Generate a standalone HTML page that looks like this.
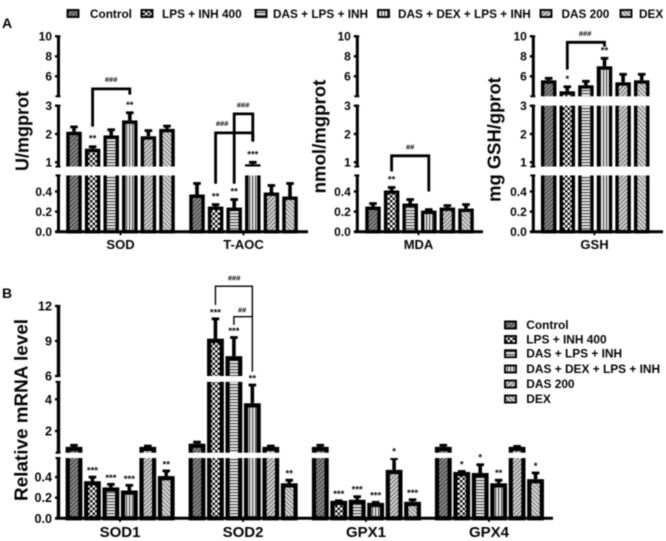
<!DOCTYPE html>
<html>
<head>
<meta charset="utf-8">
<title>Antioxidant chart</title>
<style>
html,body{margin:0;padding:0;background:#fff;width:666px;height:541px;overflow:hidden}
svg{display:block;filter:blur(.4px)}
text{font-family:"Liberation Sans",Arial,sans-serif;font-weight:bold;fill:#050505}
</style>
</head>
<body>
<svg id="chart" xmlns="http://www.w3.org/2000/svg" width="666" height="541" viewBox="0 0 666 541">
<defs>
<pattern id="p0" patternUnits="userSpaceOnUse" width="3" height="3" patternTransform="rotate(45)"><rect width="3" height="3" fill="#8e8e8e"/><rect width="1.3" height="3" fill="#444"/></pattern>
<pattern id="p1" patternUnits="userSpaceOnUse" width="5" height="5"><rect width="5" height="5" fill="#fff"/><rect width="2.5" height="2.5" fill="#111"/><rect x="2.5" y="2.5" width="2.5" height="2.5" fill="#111"/></pattern>
<pattern id="p2" patternUnits="userSpaceOnUse" width="3" height="3"><rect width="3" height="3" fill="#f2f2f2"/><rect width="3" height="1.2" fill="#444"/></pattern>
<pattern id="p3" patternUnits="userSpaceOnUse" width="3" height="3"><rect width="3" height="3" fill="#f5f5f5"/><rect width="1.2" height="3" fill="#444"/></pattern>
<pattern id="p4" patternUnits="userSpaceOnUse" width="3" height="3" patternTransform="rotate(45)"><rect width="3" height="3" fill="#dcdcdc"/><rect width="1.2" height="3" fill="#6a6a6a"/></pattern>
<pattern id="p5" patternUnits="userSpaceOnUse" width="3" height="3" patternTransform="rotate(-45)"><rect width="3" height="3" fill="#e2e2e2"/><rect width="1.2" height="3" fill="#747474"/></pattern>
</defs>
</svg>
<script>
var seriesNames = ['Control', 'LPS + INH 400', 'DAS + LPS + INH', 'DAS + DEX + LPS + INH', 'DAS 200', 'DEX'];
var panelACategories = ['SOD', 'T-AOC', 'MDA', 'GSH'];
var panelBCategories = ['SOD1', 'SOD2', 'GPX1', 'GPX4'];
var panelATicks = [0, 0.2, 0.4, 1, 2, 3, 6, 8, 10];
var panelATickLabels = ['0.0', '0.2', '0.4', '1', '2', '3', '6', '8', '10'];
var panelBTicks = [0, 0.2, 0.4, 2, 4, 6, 9, 12];
var panelBTickLabels = ['0.0', '0.2', '0.4', '2', '4', '6', '9', '12'];

var sodValues = [2.08, 1.48, 1.95, 2.48, 1.92, 2.18];
var sodErrors = [2.25, 1.55, 2.15, 2.75, 2.12, 2.28];
var sodStars = ['', '**', '', '**', '', ''];
var taocValues = [0.37, 0.25, 0.24, 0.93, 0.39, 0.35];
var taocErrors = [0.48, 0.27, 0.32, 1.0, 0.46, 0.48];
var taocStars = ['', '**', '**', '***', '', ''];
var mdaValues = [0.25, 0.41, 0.28, 0.21, 0.24, 0.23];
var mdaErrors = [0.28, 0.44, 0.32, 0.22, 0.26, 0.27];
var mdaStars = ['', '**', '', '', '', ''];
var gshValues = [5.6, 4.5, 5.1, 7.0, 5.4, 5.6];
var gshErrors = [5.8, 4.95, 5.5, 7.8, 6.2, 6.2];
var gshStars = ['', '*', '', '**', '', ''];

var sod1Values = [1.0, 0.36, 0.30, 0.27, 1.0, 0.41];
var sod1Errors = [1.1, 0.40, 0.33, 0.32, 1.05, 0.46];
var sod1Stars = ['', '***', '***', '***', '', '**'];
var sod2Values = [1.2, 9.2, 7.7, 3.75, 1.0, 0.34];
var sod2Errors = [1.3, 10.9, 9.3, 4.9, 1.05, 0.37];
var sod2Stars = ['', '***', '***', '**', '', '**'];
var gpx1Values = [1.0, 0.17, 0.18, 0.15, 0.47, 0.16];
var gpx1Errors = [1.1, 0.17, 0.21, 0.155, 0.58, 0.18];
var gpx1Stars = ['', '***', '***', '***', '*', '***'];
var gpx4Values = [1.0, 0.45, 0.44, 0.34, 1.0, 0.38];
var gpx4Errors = [1.1, 0.455, 0.52, 0.37, 1.03, 0.44];
var gpx4Stars = ['', '*', '*', '**', '', '*'];

/* brackets: leftBar, rightBar, leftFootValue, topValue, rightFootValue */
var sodBracket = [1, 3, 2.26, 4.74, 4.17];
var taocBracketOne = [1, 3, 0.477, 2.04, 1.73];
var taocBracketTwo = [2, 3, 0.477, 2.71, 1.73];
var mdaBracket = [1, 3, 0.6, 1.23, 0.40];
var gshBracket = [1, 3, 6.67, 9.4, 8.97];
var sod2BracketOne = [1, 3, 12.08, 13.7, 6.37];
var sod2BracketTwo = [2, 3, 10.37, 11.08, 11.08];

var NS = 'http://www.w3.org/2000/svg';
var svg = document.getElementById('chart');

function yA(v) {
  if (v < 0.85) return 231.7 - v * 100.5;
  if (v < 3.6) return 162.3 - (v - 1) * 28.3;
  return 76.3 - (v - 6) * 10;
}
function yB(v) {
  if (v < 0.62) return 518.3 - v * 103;
  if (v < 5.3) return 431 - (v - 2) * 15.85;
  return 376 - (v - 6) * 11.67;
}
function barX(start, i) { return start + i * 18.6; }
function barXB(start, i) { return start + i * 18.45; }

function el(tag, name, interact) {
  var n = document.createElementNS(NS, tag);
  
  
  svg.appendChild(n);
  return n;
}
function line(name, x1, y1, x2, y2, w) {
  var n = el('line', name, false);
  n.setAttribute('x1', x1);
  n.setAttribute('y1', y1);
  n.setAttribute('x2', x2);
  n.setAttribute('y2', y2);
  n.setAttribute('stroke', '#000');
  n.setAttribute('stroke-width', w);
  return n;
}
function label(name, str, x, y, size, anchor, extra) {
  var n = el('text', name, false);
  n.setAttribute('x', x);
  n.setAttribute('y', y);
  n.setAttribute('font-size', size);
  n.setAttribute('text-anchor', anchor || 'start');
  if (extra) n.setAttribute('transform', extra);
  n.textContent = str;
  return n;
}
function rotLabel(name, str, x, y, size) {
  return label(name, str, x, y, size, 'middle', 'rotate(-90 ' + x + ' ' + y + ')');
}
function drawBars(prefix, values, errors, xf, start, scale, outer, sw) {
  values.forEach(function (v, i) {
    var cx = xf(start, i);
    var y0 = scale(0), yv = scale(v), ye = scale(errors[i]);
    line(prefix + '-error-' + i, cx, yv, cx, ye, 3.6);
    line(prefix + '-error-cap-' + i, cx - 3.8, ye, cx + 3.8, ye, 2.8);
    var r = el('rect', prefix + '-bar-' + i, false);
    r.setAttribute('x', cx - outer / 2 + sw / 2);
    r.setAttribute('y', yv + sw / 2);
    r.setAttribute('width', outer - sw);
    r.setAttribute('height', Math.max(0, y0 - yv - sw / 2));
    r.setAttribute('fill', 'url(#p' + i + ')');
    r.setAttribute('stroke', '#000');
    r.setAttribute('stroke-width', sw);
  });
}
function drawStars(prefix, errors, stars, xf, start, scale, gap) {
  stars.forEach(function (s, i) {
    if (!s) return;
    label(prefix + '-significance-' + i, s, xf(start, i), scale(errors[i]) - gap, 9.5, 'middle');
  });
}
function gapBox(name, x1, x2, y1, y2) {
  var n = el('rect', name, false);
  n.setAttribute('x', x1);
  n.setAttribute('y', Math.min(y1, y2));
  n.setAttribute('width', x2 - x1);
  n.setAttribute('height', Math.abs(y2 - y1));
  n.setAttribute('fill', '#fff');
}
function yAxis(prefix, ax, right, scale, ticks, tickLabels, segs, fs, sw) {
  segs.forEach(function (s, i) {
    line(prefix + '-y-axis-segment-' + i, ax, scale(s[0]), ax, scale(s[1]), sw);
    line(prefix + '-y-axis-end-' + i + 'a', ax - 3, scale(s[0]), ax + 2, scale(s[0]), 2);
    line(prefix + '-y-axis-end-' + i + 'b', ax - 3, scale(s[1]), ax + 2, scale(s[1]), 2);
  });
  ticks.forEach(function (t, i) {
    line(prefix + '-y-tick-' + i, ax - 3.5, scale(t), ax, scale(t), 2.4);
    label(prefix + '-y-tick-label-' + i, tickLabels[i], ax - 6.5, scale(t) + fs * 0.36, fs, 'end');
  });
  line(prefix + '-x-axis', ax - 3, scale(0), right, scale(0), 3);
}
function bracket(prefix, b, xf, start, scale, w) {
  var xl = xf(start, b[0]), xr = xf(start, b[1]);
  var n = el('polyline', prefix, false);
  n.setAttribute('points', xl + ',' + scale(b[2]) + ' ' + xl + ',' + scale(b[3]) + ' ' + xr + ',' + scale(b[3]) + ' ' + xr + ',' + scale(b[4]));
  n.setAttribute('fill', 'none');
  n.setAttribute('stroke', '#000');
  n.setAttribute('stroke-width', w);
}
function hash(name, s, x, y) {
  var n = label(name, s, x, y, 7.5, 'middle');
  n.setAttribute('font-style', 'italic');
}
function swatch(name, x, y, i) {
  var r = el('rect', name, true);
  r.setAttribute('x', x);
  r.setAttribute('y', y);
  r.setAttribute('width', 11);
  r.setAttribute('height', 7);
  r.setAttribute('fill', 'url(#p' + i + ')');
  r.setAttribute('stroke', '#000');
  r.setAttribute('stroke-width', 1.9);
}

/* Panel A bars */
drawBars('sod', sodValues, sodErrors, barX, 74, yA, 15.5, 3.4);
drawBars('taoc', taocValues, taocErrors, barX, 197, yA, 15.5, 3.4);
drawBars('mda', mdaValues, mdaErrors, barX, 373, yA, 15.5, 3.4);
drawBars('gsh', gshValues, gshErrors, barX, 548.7, yA, 15.5, 3.4);
/* Panel B bars */
drawBars('sod1', sod1Values, sod1Errors, barXB, 74, yB, 16.8, 4.2);
drawBars('sod2', sod2Values, sod2Errors, barXB, 197, yB, 16.8, 4.2);
drawBars('gpx1', gpx1Values, gpx1Errors, barXB, 320.3, yB, 16.8, 4.2);
drawBars('gpx4', gpx4Values, gpx4Errors, barXB, 443.3, yB, 16.8, 4.2);

/* axis breaks */
[[60, 308], [359, 483], [535, 666]].forEach(function (p, i) {
  gapBox('panel-a-axis-break-low-' + i, p[0], p[1], yA(0.56), yA(0.85));
  gapBox('panel-a-axis-break-high-' + i, p[0], p[1], yA(3), yA(4));
});
gapBox('panel-b-axis-break-low', 60, 553, yB(0.585), yB(0.63));
gapBox('panel-b-axis-break-high', 60, 553, yB(5.1), yB(6));

/* axes */
var segA = [[0, 0.56], [0.85, 3], [4, 10]];
yAxis('sod-panel', 58.5, 308, yA, panelATicks, panelATickLabels, segA, 12, 3);
yAxis('mda-panel', 357.3, 483, yA, panelATicks, panelATickLabels, segA, 12, 3);
yAxis('gsh-panel', 533.3, 663, yA, panelATicks, panelATickLabels, segA, 12, 3);
yAxis('panel-b', 58.5, 553, yB, panelBTicks, panelBTickLabels, [[0, 0.585], [0.63, 5.1], [6, 12]], 12.6, 3.4);

/* x ticks and category labels */
[120.5, 243.5, 418.5, 594.5].forEach(function (x, i) {
  line('x-tick-' + panelACategories[i], x, yA(0), x, yA(0) + 3.5, 2);
  label('category-' + panelACategories[i], panelACategories[i], x, 249, 13, 'middle');
});
[120, 243, 366, 489].forEach(function (x, i) {
  line('x-tick-' + panelBCategories[i], x, yB(0), x, yB(0) + 3.5, 2);
  label('category-' + panelBCategories[i], panelBCategories[i], x, 537, 15, 'middle');
});

/* brackets */
bracket('sod-bracket', sodBracket, barX, 74, yA, 2.8);
bracket('taoc-bracket-one', taocBracketOne, barX, 197, yA, 2.8);
bracket('taoc-bracket-two', taocBracketTwo, barX, 197, yA, 2.8);
bracket('mda-bracket', mdaBracket, barX, 373, yA, 2.8);
bracket('gsh-bracket', gshBracket, barX, 548.7, yA, 2.8);
bracket('sod2-bracket-one', sod2BracketOne, barXB, 197, yB, 1.4);
bracket('sod2-bracket-two', sod2BracketTwo, barXB, 197, yB, 1.4);
hash('sod-hash', '###', 111, 82);
hash('taoc-hash-one', '###', 222, 126);
hash('taoc-hash-two', '###', 243, 107.5);
hash('mda-hash', '##', 410, 149.5);
hash('gsh-hash', '###', 585, 36);
hash('sod2-hash-one', '###', 234, 280.5);
hash('sod2-hash-two', '##', 242, 312.5);

/* significance stars */
drawStars('sod', sodErrors, sodStars, barX, 74, yA, 5);
drawStars('taoc', taocErrors, taocStars, barX, 197, yA, 5);
drawStars('mda', mdaErrors, mdaStars, barX, 373, yA, 5);
drawStars('gsh', gshErrors, gshStars, barX, 548.7, yA, 5);
drawStars('sod1', sod1Errors, sod1Stars, barXB, 74, yB, 3.5);
drawStars('sod2', sod2Errors, sod2Stars, barXB, 197, yB, 3.5);
drawStars('gpx1', gpx1Errors, gpx1Stars, barXB, 320.3, yB, 4);
drawStars('gpx4', gpx4Errors, gpx4Stars, barXB, 443.3, yB, 4);

/* axis titles and panel letters */
rotLabel('panel-a-y-axis-title-sod', 'U/mgprot', 28.5, 131, 18);
rotLabel('panel-a-y-axis-title-mda', 'nmol/mgprot', 325.5, 136.5, 18.6);
rotLabel('panel-a-y-axis-title-gsh', 'mg GSH/gprot', 500.5, 139.5, 18.4);
rotLabel('panel-b-y-axis-title', 'Relative mRNA level', 27.5, 410, 18.9);
var letterA = label('panel-letter-a', 'A', 2, 28, 14);
letterA.setAttribute('font-weight', 'normal');
var letterB = label('panel-letter-b', 'B', 2, 298, 14);
letterB.setAttribute('font-weight', 'normal');

/* legends */
[[67.5, 90], [141.5, 162], [255.5, 273], [378, 398], [540.5, 561.5], [620.5, 639]].forEach(function (p, i) {
  swatch('top-legend-swatch-' + i, p[0], 10, i);
  label('top-legend-label-' + i, seriesNames[i], p[1], 18.2, 11.8);
});
[325, 339.5, 353.7, 369, 384, 399].forEach(function (y, i) {
  swatch('side-legend-swatch-' + i, 505, y - 3.5, i);
  label('side-legend-label-' + i, seriesNames[i], 526.3, y + 4, 11.9);
});
</script>
</body>
</html>
